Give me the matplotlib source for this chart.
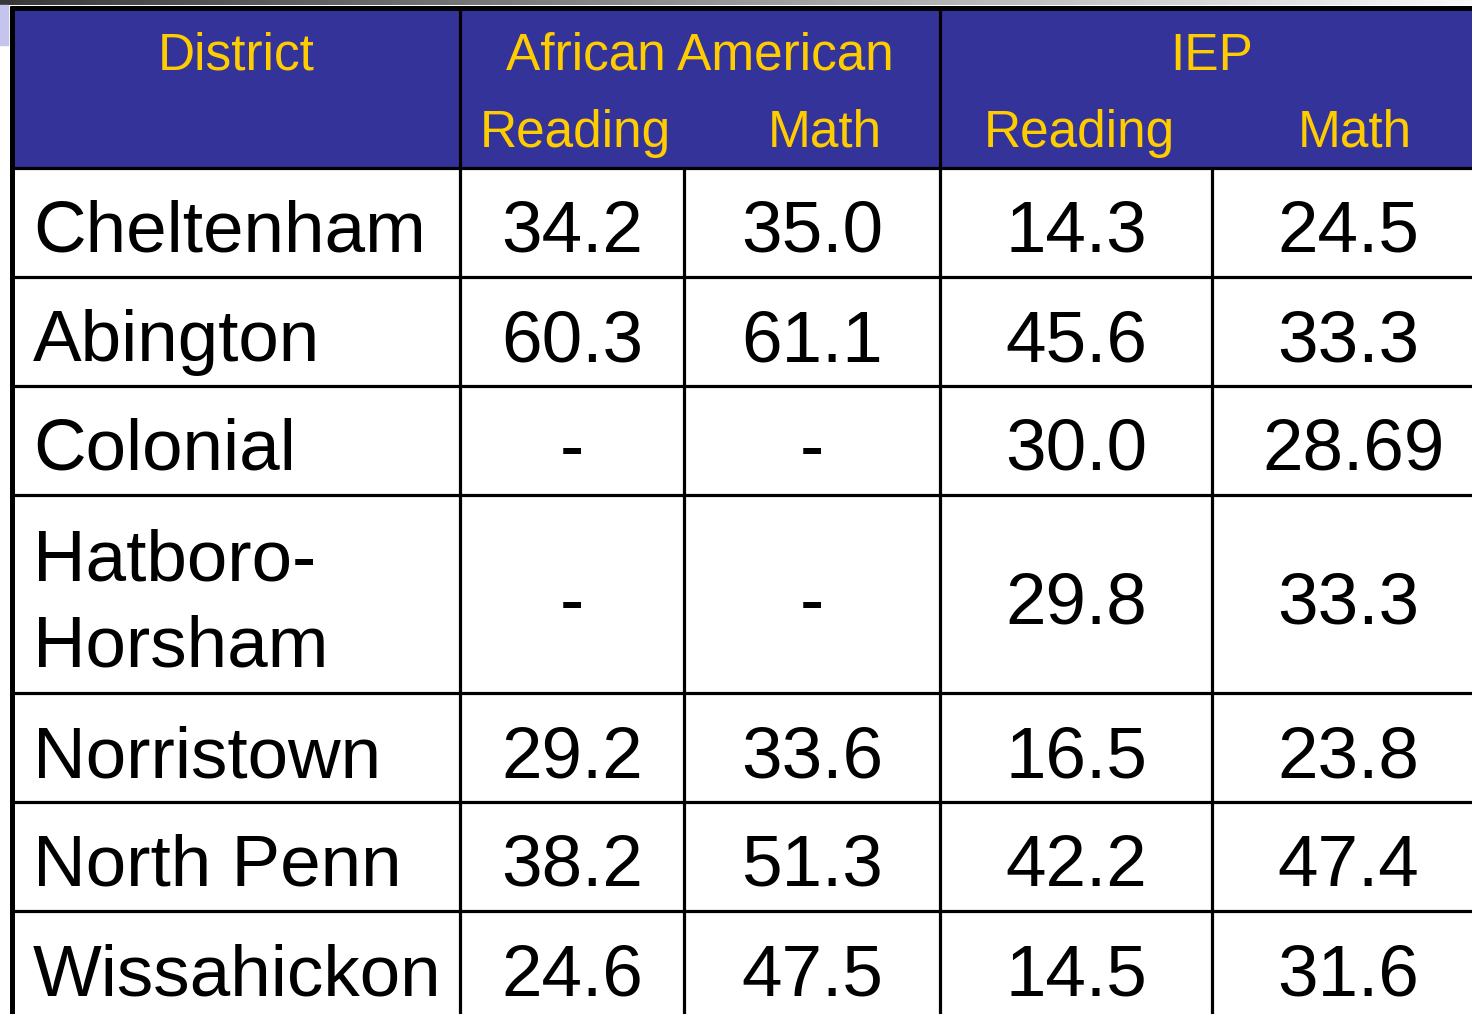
import numpy as np
import matplotlib
matplotlib.use('Agg')
from matplotlib import pyplot as plt

# table content
districts = ['Cheltenham', 'Abington', 'Colonial', 'Hatboro-\nHorsham',
             'Norristown', 'North Penn', 'Wissahickon']
aa_reading = ['34.2', '60.3', '-', '-', '29.2', '38.2', '24.6']
aa_math = ['35.0', '61.1', '-', '-', '33.6', '51.3', '47.5']
iep_reading = ['14.3', '45.6', '30.0', '29.8', '16.5', '42.2', '14.5']
iep_math = ['24.5', '33.3', '28.69', '33.3', '23.8', '47.4', '31.6']

group_labels = ['District', 'African American', 'IEP']
sub_labels = ['Reading', 'Math', 'Reading', 'Math']

W, H = 1472, 1014
navy = '#333399'
yellow = '#FFCC00'
font = 'Liberation Sans'

fig = plt.figure(figsize=(W/100, H/100), dpi=100)
ax = fig.add_axes([0, 0, 1, 1])
ax.set_xlim(0, W)
ax.set_ylim(H, 0)
ax.axis('off')

# top gradient bar and little lavender strip
grad = np.linspace(0.22, 0.97, 256).reshape(1, -1)
ax.imshow(grad, cmap='gray', vmin=0, vmax=1, extent=[0, W, 5, 0], aspect='auto')
ax.add_patch(plt.Rectangle((0, 5), 8, 40, color='#c4c4ec', zorder=1))

# column edges / row edges
col_x = [12, 460, 684, 940, 1212, W]
head_top, head_bot = 9, 168
row_h = 109
row_y = [head_bot]
for d in districts:
    nlines = d.count('\n') + 1
    row_y.append(row_y[-1] + row_h + (nlines - 1) * 89)

# header background
ax.add_patch(plt.Rectangle((col_x[0], head_top), W - col_x[0], head_bot - head_top,
                           color=navy, zorder=1))

lw_in = 2.3
lw_out = 3.6
# horizontal lines
for y in row_y:
    ax.plot([col_x[0], W], [y, y], color='black', lw=lw_in, solid_capstyle='butt', zorder=3)
ax.plot([col_x[0] - 2, W], [head_top - 1, head_top - 1], color='black', lw=lw_out,
        solid_capstyle='butt', zorder=3)
# vertical lines
ax.plot([col_x[0], col_x[0]], [head_top - 3, H], color='black', lw=lw_out,
        solid_capstyle='butt', zorder=3)
for x in (col_x[1], col_x[3]):
    ax.plot([x, x], [head_top, H], color='black', lw=lw_in, solid_capstyle='butt', zorder=3)
for x in (col_x[2], col_x[4]):
    ax.plot([x, x], [head_bot, H], color='black', lw=lw_in, solid_capstyle='butt', zorder=3)

# header text
hs = 37
ax.text((col_x[0] + col_x[1]) / 2, 56, group_labels[0], color=yellow, fontsize=hs,
        family=font, ha='center', va='center', zorder=4)
ax.text((col_x[1] + col_x[3]) / 2, 56, group_labels[1], color=yellow, fontsize=hs,
        family=font, ha='center', va='center', zorder=4)
ax.text((col_x[3] + col_x[5]) / 2 + 6, 56, group_labels[2], color=yellow, fontsize=hs,
        family=font, ha='center', va='center', zorder=4)
for i, lab in enumerate(sub_labels):
    cx = (col_x[i + 1] + col_x[i + 2]) / 2
    if lab == 'Math':
        cx += 13
    else:
        cx += 3
    ax.text(cx, 133, lab, color=yellow, fontsize=hs, family=font,
            ha='center', va='center', zorder=4)

# body
bs = 52.5
cols = [aa_reading, aa_math, iep_reading, iep_math]
for r, d in enumerate(districts):
    cy = (row_y[r] + row_y[r + 1]) / 2 + 11
    ax.text(33, cy, d, fontsize=bs, family=font, ha='left', va='center',
            linespacing=1.36, zorder=4)
    for c, vals in enumerate(cols):
        cx = (col_x[c + 1] + col_x[c + 2]) / 2
        if c == 3:
            cx += 6 + 6 * (len(vals[r]) - 4)
        ax.text(cx, cy, vals[r], fontsize=bs, family=font, ha='center',
                va='center', zorder=4)

plt.savefig('out.png', dpi=100)
